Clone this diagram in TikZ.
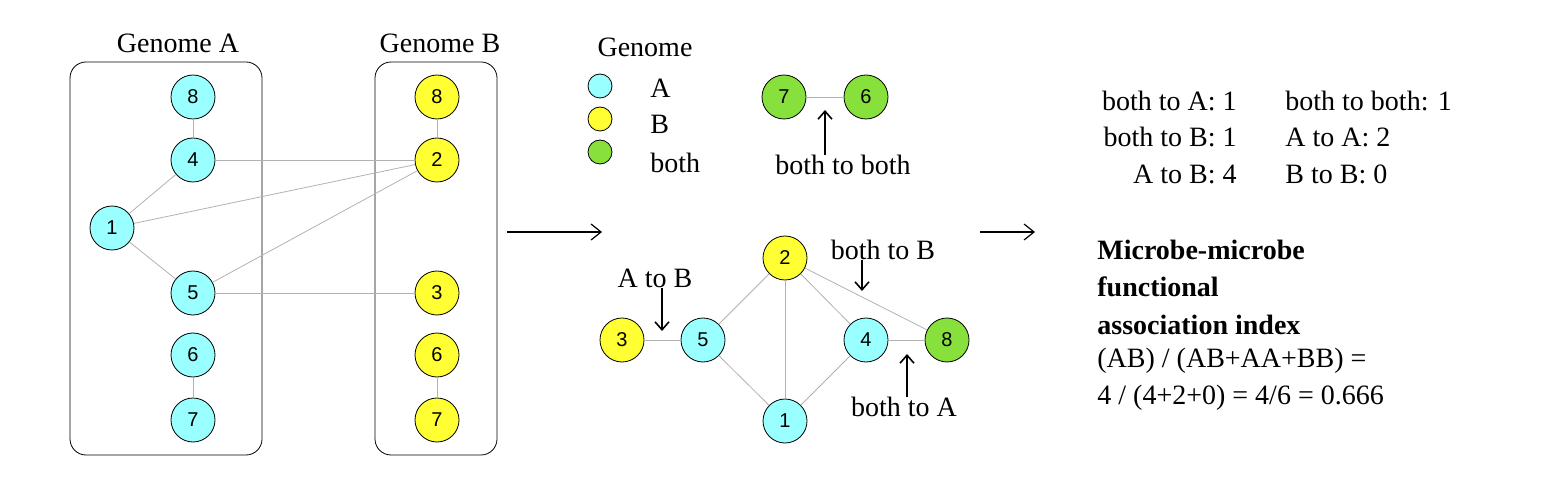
\documentclass[tikz,border=0pt]{standalone}
\usepackage{fontspec}
\setmainfont{Liberation Serif}
\newfontfamily\numfont{Liberation Sans}
\usetikzlibrary{arrows.meta}
\definecolor{cyanA}{HTML}{99FFFF}
\definecolor{yellowB}{HTML}{FFFF33}
\definecolor{greenAB}{HTML}{88E03C}
\tikzset{
  gene/.style={circle,draw=black,thin,minimum size=22pt,inner sep=0pt,font=\numfont\fontsize{10}{12}\selectfont},
  ga/.style={gene,fill=cyanA},
  gb/.style={gene,fill=yellowB},
  gab/.style={gene,fill=greenAB},
  link/.style={draw=gray!60,thin},
  txt/.style={font=\fontsize{14}{16}\selectfont,inner sep=0pt},
  pointer/.style={-{Straight Barb[length=4pt,width=7pt]},thick},
  flow/.style={-{Straight Barb[length=5pt,width=8pt]},semithick}
}
\begin{document}
\begin{tikzpicture}[x=0.5pt,y=-0.5pt]
    \useasboundingbox (0,0) rectangle (1547,502);

    % Genome boxes
    \draw[rounded corners=8pt] (70,62) rectangle (262,455);
    \draw[rounded corners=8pt] (375,62) rectangle (497,455);
    \node[txt] (labA) at (178,43) {Genome A};
    \node[txt] (labB) at (440,43) {Genome B};

    % Genome A genes
    \node[ga] (a8) at (193,97) {8};
    \node[ga] (a4) at (193,160) {4};
    \node[ga] (a1) at (112,228) {1};
    \node[ga] (a5) at (193,293) {5};
    \node[ga] (a6) at (193,355) {6};
    \node[ga] (a7) at (193,420) {7};

    % Genome B genes
    \node[gb] (b8) at (437,97) {8};
    \node[gb] (b2) at (437,160) {2};
    \node[gb] (b3) at (437,293) {3};
    \node[gb] (b6) at (437,355) {6};
    \node[gb] (b7) at (437,420) {7};

    % Links between genes
    \draw[link] (a8) -- (a4);
    \draw[link] (a4) -- (a1);
    \draw[link] (a1) -- (a5);
    \draw[link] (a6) -- (a7);
    \draw[link] (b8) -- (b2);
    \draw[link] (b6) -- (b7);
    \draw[link] (a4) -- (b2);
    \draw[link] (a1) -- (b2);
    \draw[link] (a5) -- (b2);
    \draw[link] (a5) -- (b3);

    % First arrow
    \coordinate (f1s) at (507,232);
    \coordinate (f1e) at (602,232);
    \draw[flow] (f1s) -- (f1e);

    % Legend
    \node[txt] (leg) at (645,47) {Genome};
    \node[ga,minimum size=12pt] (lA) at (600,86) {};
    \node[gb,minimum size=12pt] (lB) at (600,119) {};
    \node[gab,minimum size=12pt] (lAB) at (600,152) {};
    \node[txt,anchor=west] (tA) at (650,88) {A};
    \node[txt,anchor=west] (tB) at (650,124) {B};
    \node[txt,anchor=west] (tAB) at (650,163) {both};

    % both to both
    \node[gab] (c7) at (784,97) {7};
    \node[gab] (c6) at (866,97) {6};
    \draw[link] (c7) -- (c6);
    \node[txt] (bb) at (843,165) {both to both};
    \coordinate (bbt) at (825,110);
    \draw[pointer] (bb.north -| bbt) -- (bbt);

    % Merged network
    \node[gb] (m2) at (785,258) {2};
    \node[gb] (m3) at (622,340) {3};
    \node[ga] (m5) at (703,340) {5};
    \node[ga] (m4) at (866,340) {4};
    \node[gab] (m8) at (947,340) {8};
    \node[ga] (m1) at (785,421) {1};
    \draw[link] (m3) -- (m5);
    \draw[link] (m5) -- (m2);
    \draw[link] (m5) -- (m1);
    \draw[link] (m2) -- (m1);
    \draw[link] (m2) -- (m4);
    \draw[link] (m2) -- (m8);
    \draw[link] (m4) -- (m1);
    \draw[link] (m4) -- (m8);

    % Edge type labels
    \node[txt] (ab) at (655,278) {A to B};
    \coordinate (abt) at (662,331);
    \draw[pointer] (ab.south -| abt) -- (abt);
    \node[txt] (btb) at (883,250) {both to B};
    \coordinate (btbt) at (862,291);
    \draw[pointer] (btb.south -| btbt) -- (btbt);
    \node[txt] (bta) at (904,407) {both to A};
    \coordinate (btat) at (907,354);
    \draw[pointer] (bta.north -| btat) -- (btat);

    % Second arrow
    \coordinate (f2s) at (980,232);
    \coordinate (f2e) at (1035,232);
    \draw[flow] (f2s) -- (f2e);

    % Counts
    \node[txt,anchor=east] (n1) at (1237,101) {both to A: 1};
    \node[txt,anchor=east] (n2) at (1237,137) {both to B: 1};
    \node[txt,anchor=east] (n3) at (1237,174) {A to B: 4};
    \node[txt,anchor=west] (n4) at (1285,101) {both to both: 1};
    \node[txt,anchor=west] (n5) at (1285,137) {A to A: 2};
    \node[txt,anchor=west] (n6) at (1285,174) {B to B: 0};

    % Index
    \node[txt,anchor=west,font=\fontsize{14}{16}\selectfont\bfseries] (i1) at (1097,250) {Microbe-microbe};
    \node[txt,anchor=west,font=\fontsize{14}{16}\selectfont\bfseries] (i2) at (1097,287) {functional};
    \node[txt,anchor=west,font=\fontsize{14}{16}\selectfont\bfseries] (i3) at (1097,325) {association index};
    \node[txt,anchor=west] (i4) at (1097,361) {(AB) / (AB+AA+BB) =};
    \node[txt,anchor=west] (i5) at (1097,398) {4 / (4+2+0) = 4/6 = 0.666};

\end{tikzpicture}
\end{document}
